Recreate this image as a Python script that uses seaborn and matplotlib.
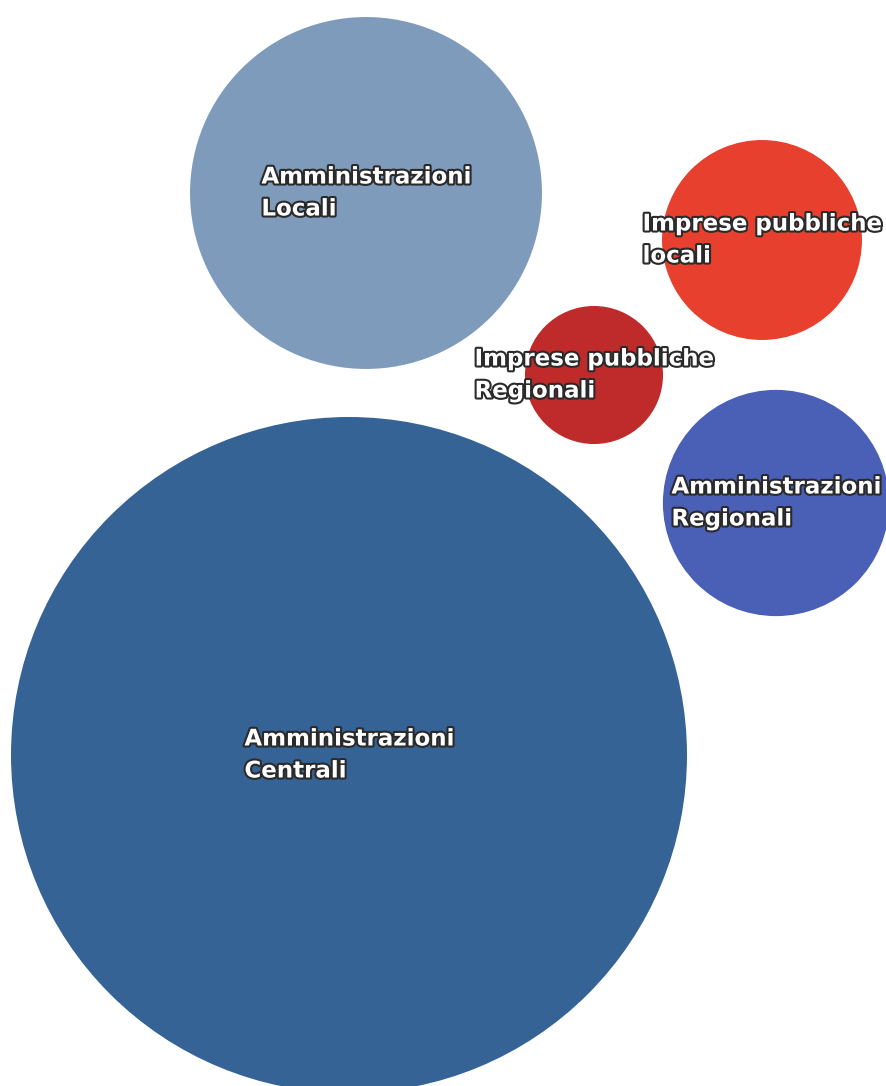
import matplotlib
matplotlib.use("Agg")
import matplotlib.pyplot as plt
import matplotlib.patheffects as pe
import numpy as np
import pandas as pd
import seaborn as sns

# Data: share of the public sector by type of body (relative size)
categories = [
    "Amministrazioni\nCentrali",
    "Amministrazioni\nLocali",
    "Amministrazioni\nRegionali",
    "Imprese pubbliche\nlocali",
    "Imprese pubbliche\nRegionali",
]
values = [100.0, 27.1, 11.2, 8.75, 4.17]

# Bubble layout (pixel grid of the canvas)
centre_x = [349, 366, 776, 762, 594]
centre_y = [755, 193, 503, 240, 375]
colours = ["#366395", "#7f9bbc", "#4a5fb6", "#e8402f", "#bf2a2b"]

W, H, DPI = 886, 1086, 100
R_MAX = 338  # radius in px of the largest bubble

df = pd.DataFrame({"label": categories, "val": values,
                   "x": centre_x, "y": centre_y})

sns.set_theme(style="white")
fig = plt.figure(figsize=(W / DPI, H / DPI), dpi=DPI)
ax = fig.add_axes([0, 0, 1, 1])

# marker area in pt^2 proportional to the value
s_max = (2 * R_MAX * 72 / DPI) ** 2
sns.scatterplot(data=df, x="x", y="y", hue="label", palette=colours,
                size="val", sizes=(0, s_max), size_norm=(0, max(values)),
                linewidth=0, alpha=1, legend=False, ax=ax, zorder=2)

for _, row in df.iterrows():
    ax.text(row["x"], row["y"], row["label"], ha="center", va="center",
            multialignment="left", color="white", fontsize=16.5,
            fontweight="bold", family="DejaVu Sans", linespacing=1.5,
            zorder=3,
            path_effects=[pe.withStroke(linewidth=3, foreground="#2a2a2a")])

ax.set_xlim(0, W)
ax.set_ylim(H, 0)
ax.set_aspect("equal")
ax.axis("off")
fig.savefig("out.png", dpi=DPI, facecolor="white")
